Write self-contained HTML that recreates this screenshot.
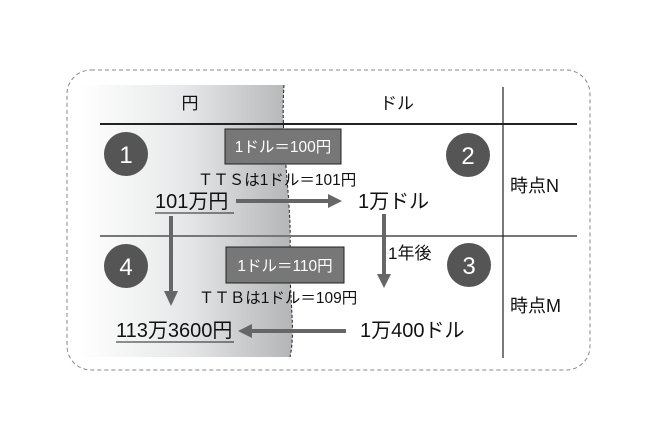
<!DOCTYPE html>
<html><head><meta charset="utf-8"><style>
body{margin:0;width:659px;height:437px;background:#fff;overflow:hidden}
svg text{font-family:"Liberation Sans","Noto Sans CJK JP",sans-serif;fill:#111}
</style></head><body>
<svg width="659" height="437" viewBox="0 0 659 437">
<defs>
<linearGradient id="g" x1="0" x2="1" y1="0" y2="0">
<stop offset="0" stop-color="#fff"/><stop offset="0.5" stop-color="#e6e7e8"/><stop offset="1" stop-color="#b4b5b7"/>
</linearGradient>
</defs>
<rect x="67" y="70" width="523" height="300" rx="24" fill="none" stroke="#888" stroke-dasharray="4,3"/>
<path d="M81,85 L284,85 C280,140 292,200 290,250 C289,300 296,330 290,357 L81,357 Z" fill="url(#g)"/>
<path d="M284,85 C280,140 292,200 290,250 C289,300 296,330 290,357" fill="none" stroke="#222" stroke-dasharray="3,2"/>
<line x1="100" y1="124" x2="577" y2="124" stroke="#222" stroke-width="2"/>
<line x1="100" y1="236" x2="577" y2="236" stroke="#777" stroke-width="2"/>
<line x1="503" y1="87" x2="503" y2="358" stroke="#222" stroke-width="1.2"/>
<text x="190" y="109" font-size="17" text-anchor="middle">円</text>
<text x="397" y="109" font-size="17" text-anchor="middle">ドル</text>
<g fill="#555"><circle cx="126" cy="154" r="22"/><circle cx="468" cy="155" r="22"/><circle cx="126" cy="266" r="22"/><circle cx="469" cy="265" r="22"/></g>
<g font-size="24" text-anchor="middle"><text x="126" y="163" style="fill:#fff">1</text><text x="468" y="164" style="fill:#fff">2</text><text x="126" y="275" style="fill:#fff">4</text><text x="469" y="274" style="fill:#fff">3</text></g>
<rect x="225" y="129" width="116" height="35" fill="#777" stroke="#222"/>
<rect x="226" y="247" width="118" height="36" fill="#777" stroke="#222"/>
<text x="283" y="152" font-size="15.5" text-anchor="middle" style="fill:#fff">1ドル＝100円</text>
<text x="285" y="271" font-size="15.5" text-anchor="middle" style="fill:#fff">1ドル＝110円</text>
<text x="277" y="185" font-size="15.5" text-anchor="middle">ＴＴＳは1ドル＝101円</text>
<text x="278" y="303" font-size="15.5" text-anchor="middle">ＴＴＢは1ドル＝109円</text>
<text x="155" y="208" font-size="20">101万円</text>
<line x1="155" y1="213" x2="234" y2="213" stroke="#222"/>
<text x="116" y="337" font-size="20">113万3600円</text>
<line x1="116" y1="342" x2="234" y2="342" stroke="#222"/>
<text x="358" y="208" font-size="20">1万ドル</text>
<text x="360" y="337" font-size="20">1万400ドル</text>
<text x="388" y="259" font-size="17">1年後</text>
<text x="510" y="192" font-size="18">時点N</text>
<text x="510" y="312" font-size="18">時点M</text>
<g stroke="#666" stroke-width="4" fill="none"><line x1="236" y1="201" x2="330" y2="201"/><line x1="171" y1="216" x2="171" y2="293"/><line x1="384" y1="214" x2="384" y2="276"/><line x1="346" y1="331" x2="250" y2="331"/></g>
<g fill="#666"><path d="M328,194 L342,201 L328,208Z"/><path d="M164,291 L171,306 L178,291Z"/><path d="M377,274 L384,288 L391,274Z"/><path d="M252,324 L238,331 L252,338Z"/></g>
</svg>
</body></html>
